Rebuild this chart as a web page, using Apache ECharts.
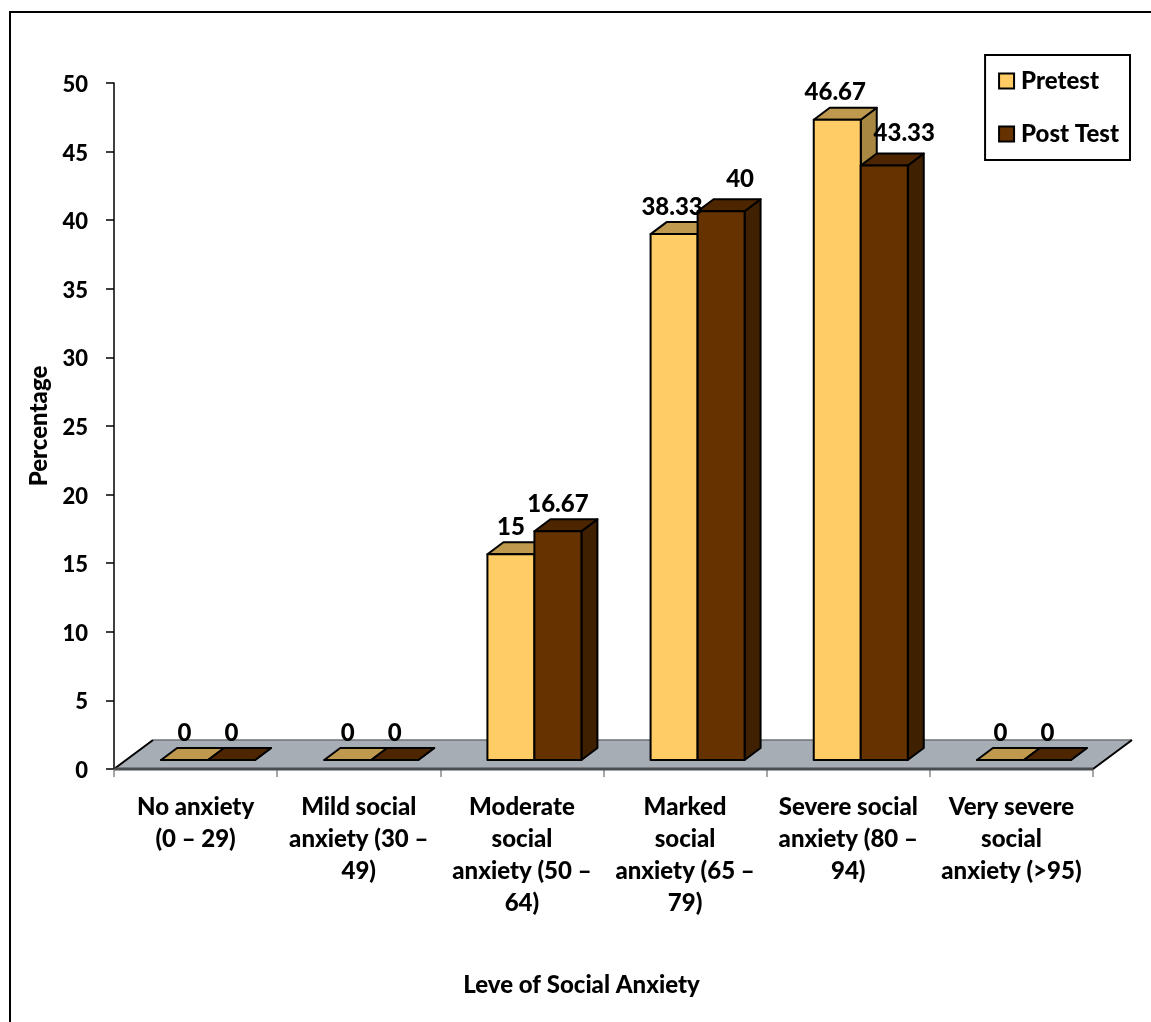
<!DOCTYPE html>
<html>
<head>
<meta charset="utf-8">
<style>html,body{margin:0;padding:0;background:#fff}#chart{width:1151px;height:1022px}</style>
<script src="https://cdn.jsdelivr.net/npm/echarts@6/dist/echarts.min.js"></script>
</head>
<body>
<div id="chart"></div>
<script>
const categories = [
  'No anxiety\n(0 – 29)',
  'Mild social\nanxiety (30 –\n49)',
  'Moderate\nsocial\nanxiety (50 –\n64)',
  'Marked\nsocial\nanxiety (65 –\n79)',
  'Severe social\nanxiety (80 –\n94)',
  'Very severe\nsocial\nanxiety (>95)'
];
const pretest = [0, 0, 15, 38.33, 46.67, 0];
const postTest = [0, 0, 16.67, 40, 43.33, 0];

const FONT = 'Lato, "Open Sans", sans-serif';
const WEIGHT = 900;
const DEPTH_X = 16, DEPTH_Y = 12, LIFT = 9;      // oblique projection of the bars
const FLOOR_X = 39, FLOOR_Y = 29;                // oblique projection of the floor
const BAR_SHARE = 47 / 163.17;

const pretestColors = { front: '#FFCC66', top: '#BF994D', side: '#A88743' };
const postColors = { front: '#663300', top: '#4D2600', side: '#3F2000' };

// Labels that would collide with a neighbouring bar are nudged aside.
const postNudge = { 3: [19, -5], 4: [20, -5] };
const preNudge = { 3: [-2, 0], 4: [-2, 0] };

const face = (points, fill) => ({
  type: 'polygon',
  shape: { points },
  style: { fill, stroke: '#000', lineWidth: 2, lineJoin: 'round' }
});

function barRenderer(side, colors) {
  return function (params, api) {
    const bandW = api.size([1, 0])[0];
    const w = bandW * BAR_SHARE;
    const base = api.coord([api.value(0), 0]);
    const topPt = api.coord([api.value(0), api.value(1)]);
    const cx = base[0] + 12.5;
    const l = side < 0 ? cx - w : cx;
    const r = l + w;
    const by = base[1] - LIFT;
    const ty = topPt[1] - LIFT;
    return {
      type: 'group',
      children: [
        face([[r, by], [r + DEPTH_X, by - DEPTH_Y], [r + DEPTH_X, ty - DEPTH_Y], [r, ty]], colors.side),
        face([[l, ty], [l + DEPTH_X, ty - DEPTH_Y], [r + DEPTH_X, ty - DEPTH_Y], [r, ty]], colors.top),
        face([[l, by], [r, by], [r, ty], [l, ty]], colors.front)
      ]
    };
  };
}

function labelRenderer(side, nudge) {
  return function (params, api) {
    const bandW = api.size([1, 0])[0];
    const w = bandW * BAR_SHARE;
    const idx = api.value(0);
    const base = api.coord([idx, 0]);
    const topPt = api.coord([idx, api.value(1)]);
    const n = nudge[idx] || [0, 0];
    return {
      type: 'text',
      x: base[0] + 12.5 + side * w / 2 + n[0],
      y: topPt[1] - LIFT - 27 + n[1],
      style: {
        text: String(api.value(1)),
        font: WEIGHT + ' 24px ' + FONT,
        fill: '#000',
        align: 'center',
        verticalAlign: 'middle'
      }
    };
  };
}

function floorRenderer(params, api) {
  // Only the first category triggers the drawing of the whole floor.
  if (params.dataIndex !== 0) return null;
  const cs = params.coordSys;
  const x0 = cs.x, x1 = cs.x + cs.width, y = cs.y + cs.height;
  return {
    type: 'group',
    children: [
      {
        type: 'polygon',
        shape: { points: [[x0, y], [x0 + FLOOR_X, y - FLOOR_Y], [x1 + FLOOR_X, y - FLOOR_Y], [x1, y]] },
        style: { fill: '#A6ADB4', stroke: null }
      },
      { type: 'line', shape: { x1: x0 + FLOOR_X, y1: y - FLOOR_Y, x2: x1 + FLOOR_X, y2: y - FLOOR_Y }, style: { stroke: '#6E7277', lineWidth: 1.5 } },
      { type: 'line', shape: { x1: x0, y1: y, x2: x0 + FLOOR_X, y2: y - FLOOR_Y }, style: { stroke: '#000', lineWidth: 2 } },
      { type: 'line', shape: { x1: x1, y1: y, x2: x1 + FLOOR_X, y2: y - FLOOR_Y }, style: { stroke: '#000', lineWidth: 2 } },
      { type: 'line', shape: { x1: x0, y1: y, x2: x1, y2: y }, style: { stroke: '#4A4D50', lineWidth: 3 } }
    ]
  };
}

const rows = arr => arr.map((v, i) => [i, v]);
const chart = echarts.init(document.getElementById('chart'));
chart.setOption({
  animation: false,
  backgroundColor: '#fff',
  textStyle: { fontFamily: FONT },
  grid: { left: 114, right: 58, top: 83, bottom: 253 },
  legend: {
    right: 21,
    top: 55,
    orient: 'vertical',
    align: 'left',
    data: ['Pretest', 'Post Test'],
    icon: 'rect',
    itemWidth: 15,
    itemHeight: 15,
    itemGap: 29,
    padding: [14, 11, 14, 13],
    borderColor: '#000',
    borderWidth: 2,
    backgroundColor: '#fff',
    selectedMode: false,
    textStyle: { fontFamily: FONT, fontWeight: WEIGHT, fontSize: 24, color: '#000', padding: [0, 0, 0, 2] },
    itemStyle: { borderColor: '#000', borderWidth: 2 }
  },
  xAxis: {
    type: 'category',
    data: categories,
    name: 'Leve of Social Anxiety',
    nameLocation: 'middle',
    nameGap: 204,
    nameTextStyle: { fontFamily: FONT, fontWeight: WEIGHT, fontSize: 24, color: '#000', padding: [0, 44, 0, 0] },
    axisLine: { show: false },
    axisTick: { show: true, alignWithLabel: false, length: 8, lineStyle: { color: '#8C8C8C', width: 1.5 } },
    axisLabel: { interval: 0, margin: 22, fontFamily: FONT, fontWeight: WEIGHT, fontSize: 24, lineHeight: 32, color: '#000', verticalAlign: 'top' },
    boundaryGap: true
  },
  yAxis: {
    type: 'value',
    min: 0,
    max: 50,
    interval: 5,
    name: 'Percentage',
    nameLocation: 'middle',
    nameGap: 62,
    nameRotate: 90,
    nameTextStyle: { fontFamily: FONT, fontWeight: WEIGHT, fontSize: 24, color: '#000' },
    splitLine: { show: false },
    axisLine: { show: true, lineStyle: { color: '#000', width: 1.5 } },
    axisTick: { show: true, length: 8, lineStyle: { color: '#000', width: 1.5 } },
    axisLabel: { margin: 26, fontFamily: FONT, fontWeight: WEIGHT, fontSize: 22, color: '#000', verticalAlign: 'top', lineHeight: 4 }
  },
  graphic: [
    {
      type: 'polyline',
      shape: { points: [[10, 1022], [10, 12], [1151, 12]] },
      style: { stroke: '#000', lineWidth: 2, fill: null },
      z: 0
    }
  ],
  series: [
    { type: 'custom', name: 'floor', renderItem: floorRenderer, data: rows(pretest), encode: { x: 0, y: 1 }, z: 1, silent: true, clip: false },
    { type: 'custom', name: 'Pretest', renderItem: barRenderer(-1, pretestColors), data: rows(pretest), encode: { x: 0, y: 1 }, z: 2, clip: false, itemStyle: { color: pretestColors.front } },
    { type: 'custom', name: 'Post Test', renderItem: barRenderer(1, postColors), data: rows(postTest), encode: { x: 0, y: 1 }, z: 3, clip: false, itemStyle: { color: postColors.front } },
    { type: 'custom', name: 'pretest values', renderItem: labelRenderer(-1, preNudge), data: rows(pretest), encode: { x: 0, y: 1 }, z: 4, clip: false },
    { type: 'custom', name: 'post test values', renderItem: labelRenderer(1, postNudge), data: rows(postTest), encode: { x: 0, y: 1 }, z: 4, clip: false }
  ]
});
</script>
</body>
</html>
